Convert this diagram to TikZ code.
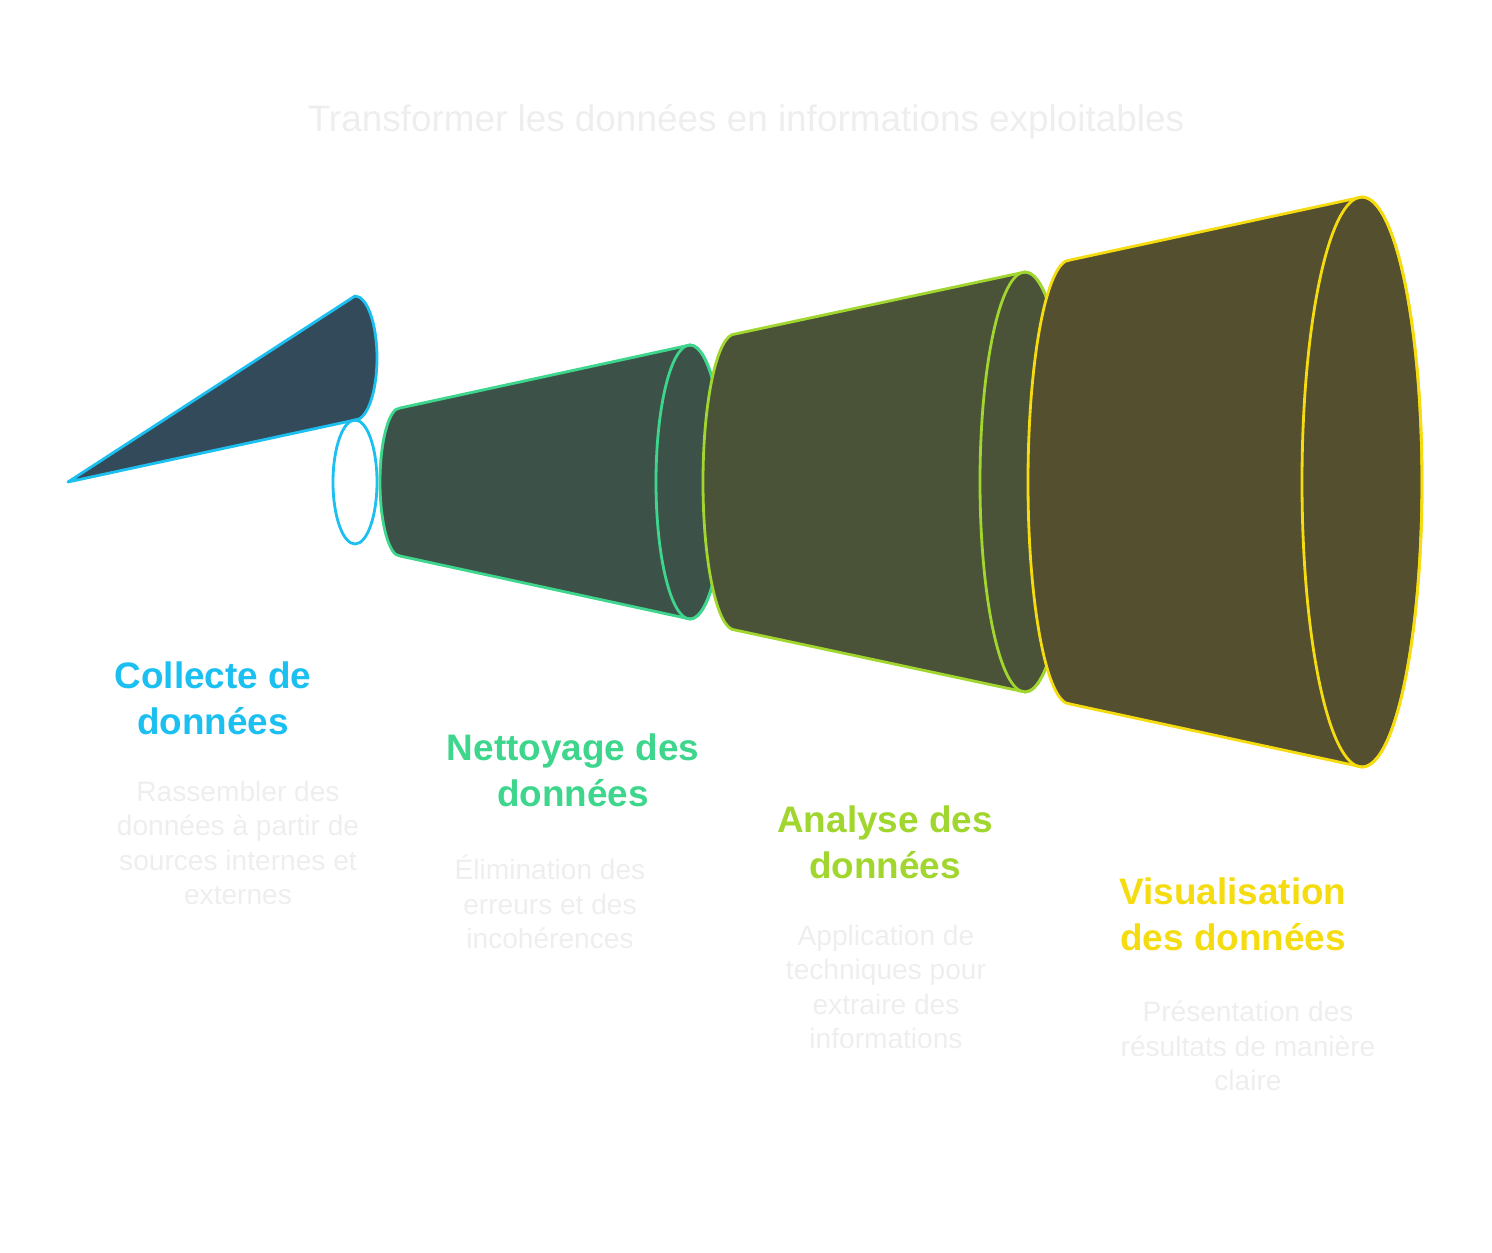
\documentclass[tikz,border=0pt]{standalone}
\usepackage{fontspec}
\setmainfont{Liberation Sans}
\usetikzlibrary{positioning}

\definecolor{cyanA}{HTML}{1CC0F0}
\definecolor{greenA}{HTML}{3DD68C}
\definecolor{limeA}{HTML}{A0D62E}
\definecolor{yellowA}{HTML}{F5DC10}
\definecolor{fillA}{HTML}{334A5A}
\definecolor{fillB}{HTML}{3C5248}
\definecolor{fillC}{HTML}{4A5238}
\definecolor{fillD}{HTML}{544F2E}
\definecolor{paleT}{HTML}{EEEEEE}

\tikzset{
	head/.style={font=\bfseries\fontsize{21}{26}\selectfont, align=center},
	desc/.style={font=\fontsize{16}{19.5}\selectfont, text=paleT, align=center},
	rim/.style={line width=1.6pt, line join=round}
}

% frustum: #1 stroke, #2 fill, #3 xl, #4 rxl, #5 ryl, #6 xr, #7 rxr, #8 ryr
\newcommand{\frustum}[8]{
	\filldraw[rim, draw=#1, fill=#2] (#3,#5) -- (#6,#8) arc[start angle=90, end angle=-90, x radius=#7, y radius=#8]
		-- (#3,-#5) arc[start angle=270, end angle=90, x radius=#4, y radius=#5] -- cycle;
	\draw[rim, draw=#1] (#6,0) ellipse[x radius=#7, y radius=#8];
}

\begin{document}
\begin{tikzpicture}[x=0.02cm, y=-0.02cm]
	\useasboundingbox (0,0) rectangle (1492,1252);
	\node[font=\fontsize{21}{26}\selectfont, text=paleT] (title) at (746,122) {Transformer les données en informations exploitables};

	\begin{scope}[yshift=-482*0.02cm]
		% cone
		\filldraw[rim, draw=cyanA, fill=fillA] (68,0) -- (355,-62) arc[start angle=90, end angle=-90, x radius=22, y radius=62] -- cycle;
		\draw[rim, draw=cyanA] (355,0) ellipse[x radius=22, y radius=62];
		\frustum{greenA}{fillB}{400}{20}{74}{690}{34}{137}
		\frustum{limeA}{fillC}{735}{32}{148}{1025}{45}{210}
		\frustum{yellowA}{fillD}{1070}{42}{222}{1362}{60}{285}
	\end{scope}

	\node[head, text=cyanA] (collecte) at (213,698) {Collecte de\\données};
	\node[head, text=greenA] (nettoyage) at (573,770) {Nettoyage des\\données};
	\node[head, text=limeA] (analyse) at (885,842) {Analyse des\\données};
	\node[head, text=yellowA] (visu) at (1233,914) {Visualisation\\des données};

	\node[desc] (collecteD) at (238,843) {Rassembler des\\données à partir de\\sources internes et\\externes};
	\node[desc] (nettoyageD) at (550,902) {Élimination des\\erreurs et des\\incohérences};
	\node[desc] (analyseD) at (886,987) {Application de\\techniques pour\\extraire des\\informations};
	\node[desc] (visuD) at (1248,1046) {Présentation des\\résultats de manière\\claire};
\end{tikzpicture}
\end{document}
